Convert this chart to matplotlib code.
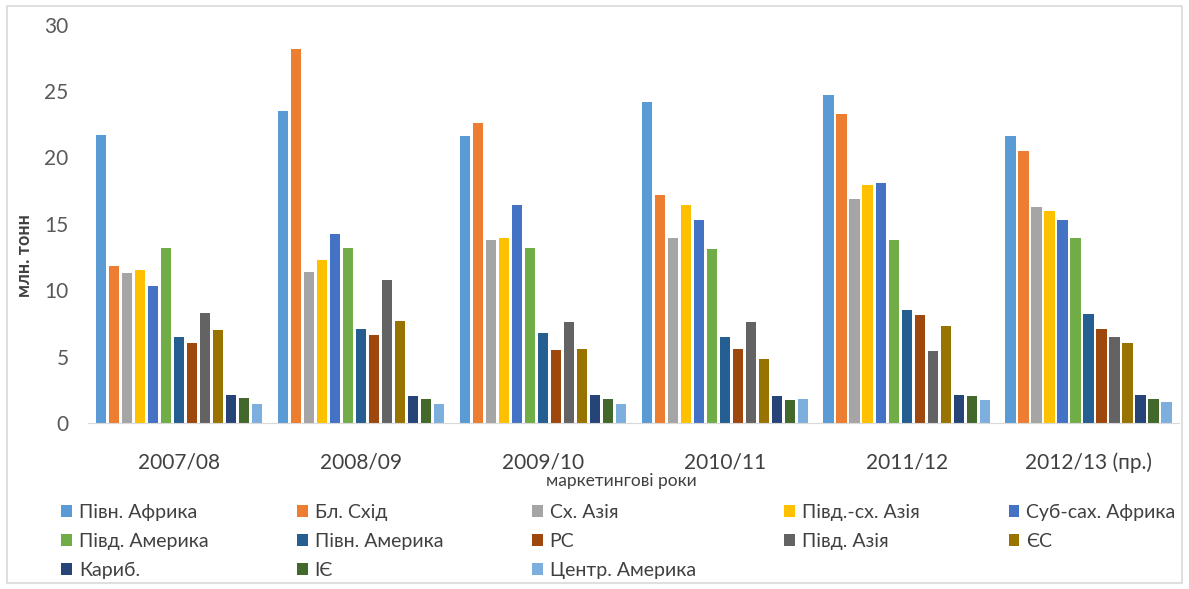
import numpy as np
import matplotlib
matplotlib.use("Agg")
import matplotlib.pyplot as plt
from matplotlib.patches import Rectangle

plt.rcParams['font.family'] = ['Lato', 'DejaVu Sans']

years = ["2007/08", "2008/09", "2009/10", "2010/11", "2011/12", "2012/13 (пр.)"]
regions = ["Півн. Африка", "Бл. Схід", "Сх. Азія", "Півд.-сх. Азія", "Суб-сах. Африка",
           "Півд. Америка", "Півн. Америка", "РС", "Півд. Азія", "ЄС",
           "Кариб.", "ІЄ", "Центр. Америка"]

# values per region, one per marketing year
pivn_afryka = [21.7, 23.5, 21.6, 24.2, 24.7, 21.6]
bl_skhid = [11.8, 28.2, 22.6, 17.2, 23.3, 20.5]
skh_aziya = [11.3, 11.4, 13.8, 13.9, 16.9, 16.3]
pivd_skh_aziya = [11.5, 12.3, 13.9, 16.4, 17.9, 16.0]
sub_sakh = [10.3, 14.2, 16.4, 15.3, 18.1, 15.3]
pivd_amer = [13.2, 13.2, 13.2, 13.1, 13.8, 13.9]
pivn_amer = [6.5, 7.1, 6.8, 6.5, 8.5, 8.2]
rs = [6.0, 6.6, 5.5, 5.6, 8.1, 7.1]
pivd_aziya = [8.3, 10.8, 7.6, 7.6, 5.4, 6.5]
yes = [7.0, 7.7, 5.6, 4.8, 7.3, 6.0]
karyb = [2.1, 2.0, 2.1, 2.0, 2.1, 2.1]
ie = [1.9, 1.8, 1.8, 1.7, 2.0, 1.8]
tsentr_amer = [1.4, 1.4, 1.4, 1.8, 1.7, 1.6]

series = [pivn_afryka, bl_skhid, skh_aziya, pivd_skh_aziya, sub_sakh, pivd_amer,
          pivn_amer, rs, pivd_aziya, yes, karyb, ie, tsentr_amer]

colors = ["#5B9BD5", "#ED7D31", "#A5A5A5", "#FFC000", "#4472C4", "#70AD47",
          "#255E91", "#9E480E", "#636363", "#997300", "#264478", "#43682B", "#7CAFDD"]

fig = plt.figure(figsize=(11.89, 5.89), dpi=100)
ax = fig.add_axes([0.074, 0.282, 0.918, 0.676])

x = np.arange(len(years))
step = 0.0715
width = 0.056
handles = []
for i, (vals, c) in enumerate(zip(series, colors)):
    off = (i - 6) * step
    b = ax.bar(x + off, vals, width=width, color=c, label=regions[i])
    handles.append(b)

ax.set_xlim(-0.5, 5.5)
ax.set_ylim(0, 30)
ax.set_yticks([0, 5, 10, 15, 20, 25, 30])
ax.set_xticks(x)
ax.set_xticklabels(years)
ax.tick_params(axis='both', length=0, labelsize=15, labelcolor='#595959')
ax.tick_params(axis='x', pad=21, labelcolor='#404040')
ax.tick_params(axis='y', pad=14)
for s in ['top', 'right', 'left']:
    ax.spines[s].set_visible(False)
ax.spines['bottom'].set_color('#D9D9D9')

ax.set_ylabel("млн. тонн", fontsize=13, fontweight='bold', color='#404040')
ax.yaxis.set_label_coords(-0.05, 0.42)
fig.text(0.523, 0.184, "маркетингові роки", ha='center', va='center', fontsize=12.5, color='#404040')

# legend: row-major order in 5 columns
order = [0, 5, 10, 1, 6, 11, 2, 7, 12, 3, 8, 4, 9]
leg = fig.legend([handles[i] for i in order], [regions[i] for i in order],
                 ncol=5, loc='upper left', bbox_to_anchor=(0.045, 0.0, 0.95, 0.158),
                 mode='expand', frameon=False, fontsize=14, handlelength=0.55,
                 handleheight=0.55, handletextpad=0.35, labelspacing=0.62,
                 borderaxespad=0)
for t in leg.get_texts():
    t.set_color('#404040')

fig.patches.append(Rectangle((0.006, 0.01), 0.988, 0.98, transform=fig.transFigure,
                             fill=False, edgecolor='#D9D9D9', linewidth=1.2))

fig.savefig("out.png", dpi=100)
